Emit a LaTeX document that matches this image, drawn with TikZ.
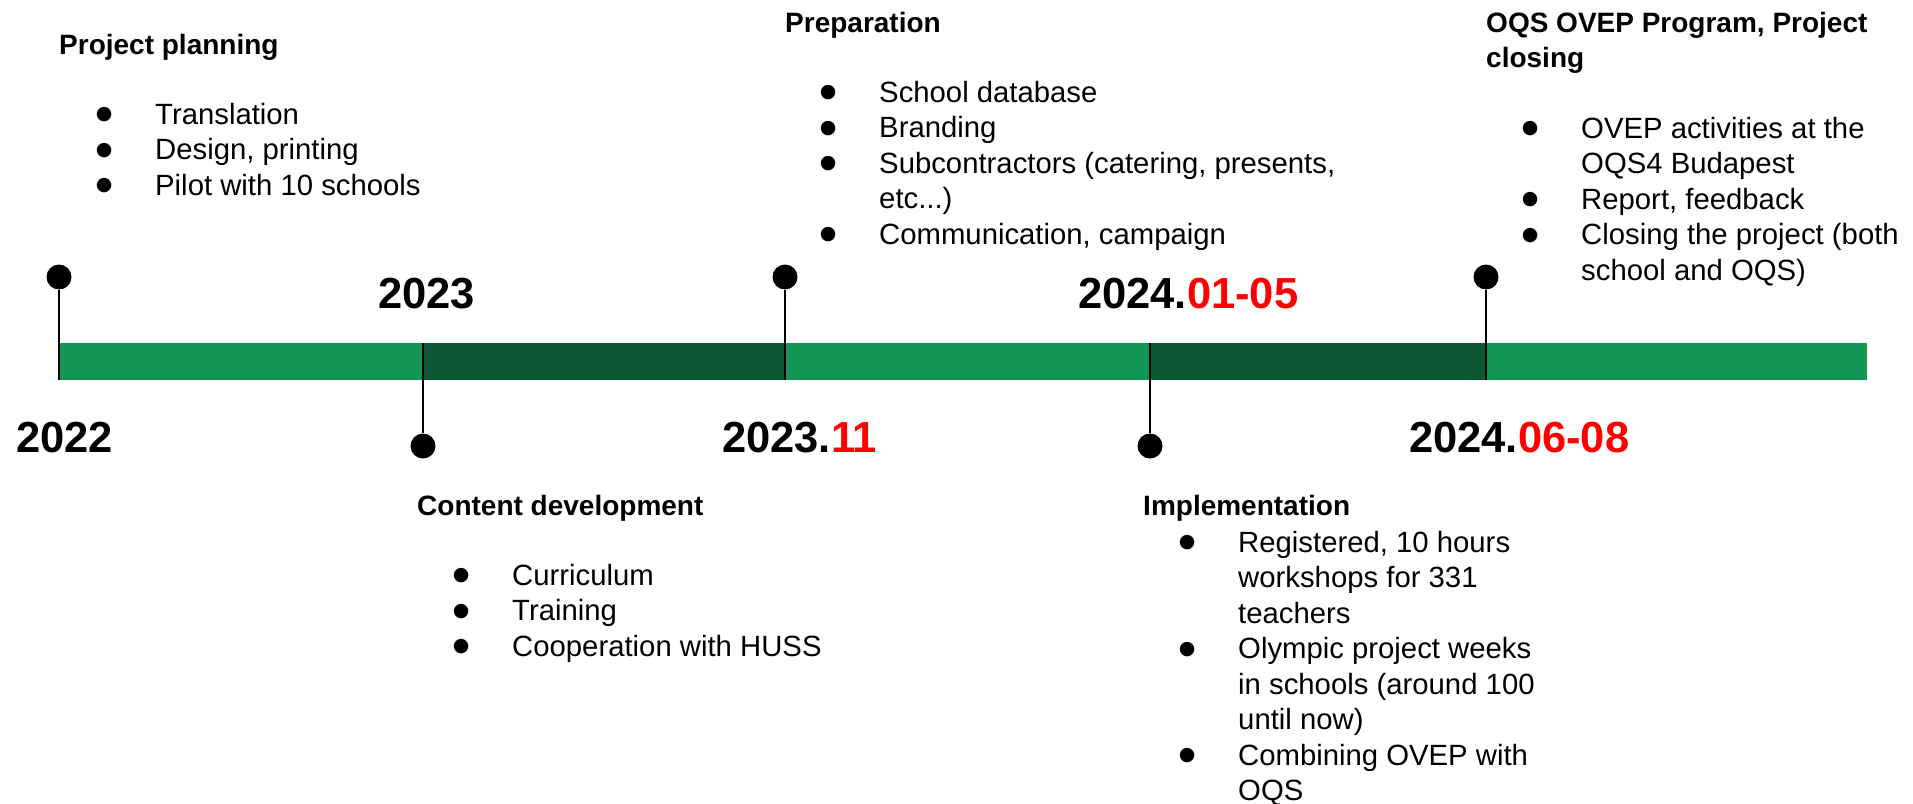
\documentclass[tikz,border=0pt]{standalone}
\usepackage{fontspec}
\setmainfont{Liberation Sans}
\newfontfamily\symfont{DejaVu Sans}
\definecolor{barlight}{RGB}{17,150,85}
\definecolor{bardark}{RGB}{11,87,51}
\definecolor{monthred}{RGB}{255,0,0}
\newcommand{\bul}{\makebox[57pt][l]{\makebox[12pt]{\symfont\fontsize{19}{19}\selectfont\raisebox{4.5pt}{●}}}}
\newcommand{\mon}[1]{\textcolor{monthred}{#1}}
\begin{document}
\begin{tikzpicture}[x=1pt,y=-1pt,
    pin/.style={circle,fill=black,inner sep=0pt,minimum size=25pt},
    stem/.style={line width=2pt},
    year/.style={anchor=base west,inner sep=0pt,font=\fontsize{43.5}{50}\selectfont\bfseries},
    head/.style={anchor=base west,inner sep=0pt,font=\fontsize{28}{35.5}\selectfont\bfseries},
    items/.style={anchor=base west,inner sep=0pt,font=\fontsize{29.3}{35.5}\selectfont}]
  \useasboundingbox (0,0) rectangle (1913,803);
  % the bar
  \fill[barlight] (59,343) rectangle (423,380);
  \fill[bardark] (423,343) rectangle (785,380);
  \fill[barlight] (785,343) rectangle (1150,380);
  \fill[bardark] (1150,343) rectangle (1486,380);
  \fill[barlight] (1486,343) rectangle (1867,380);
  \draw
    (59,277) node[pin] (p0){}
    (423,446) node[pin] (p1){}
    (785,277) node[pin] (p2){}
    (1150,446) node[pin] (p3){}
    (1486,277) node[pin] (p4){};
  \coordinate (e0) at (59,380);
  \coordinate (e1) at (423,343);
  \coordinate (e2) at (785,380);
  \coordinate (e3) at (1150,343);
  \coordinate (e4) at (1486,380);
  \begin{scope}[stem]
    \draw (p0) to (e0);
    \draw (p1) to (e1);
    \draw (p2) to (e2);
    \draw (p3) to (e3);
    \draw (p4) to (e4);
  \end{scope}
  % years
  \node[year] (y0) at (16,452) {2022};
  \node[year] (y1) at (378,308) {2023};
  \node[year] (y2) at (722,452) {2023.\mon{11}};
  \node[year] (y3) at (1078,308) {2024.\mon{01-05}};
  \node[year] (y4) at (1409,452) {2024.\mon{06-08}};
  % phases
  \node[head] (h0) at (59,54) {Project planning};
  \node[items] (l0) at (98,124) {\begin{tabular}[t]{@{}l@{}l@{}}
    \bul & Translation\\
    \bul & Design, printing\\
    \bul & Pilot with 10 schools
  \end{tabular}};
  \node[head] (h1) at (417,515) {Content development};
  \node[items] (l1) at (455,585) {\begin{tabular}[t]{@{}l@{}l@{}}
    \bul & Curriculum\\
    \bul & Training\\
    \bul & Cooperation with HUSS
  \end{tabular}};
  \node[head] (h2) at (785,32) {Preparation};
  \node[items] (l2) at (822,102) {\begin{tabular}[t]{@{}l@{}l@{}}
    \bul & School database\\
    \bul & Branding\\
    \bul & Subcontractors (catering, presents,\\
         & etc...)\\
    \bul & Communication, campaign
  \end{tabular}};
  \node[head] (h3) at (1143,515) {Implementation};
  \node[items] (l3) at (1181,552) {\begin{tabular}[t]{@{}l@{}l@{}}
    \bul & Registered, 10 hours\\
         & workshops for 331\\
         & teachers\\
    \bul & Olympic project weeks\\
         & in schools (around 100\\
         & until now)\\
    \bul & Combining OVEP with\\
         & OQS
  \end{tabular}};
  \node[head] (h4) at (1486,32) {\begin{tabular}[t]{@{}l@{}}
    OQS OVEP Program, Project\\
    closing
  \end{tabular}};
  \node[items] (l4) at (1524,138) {\begin{tabular}[t]{@{}l@{}l@{}}
    \bul & OVEP activities at the\\
         & OQS4 Budapest\\
    \bul & Report, feedback\\
    \bul & Closing the project (both\\
         & school and OQS)
  \end{tabular}};
\end{tikzpicture}
\end{document}
